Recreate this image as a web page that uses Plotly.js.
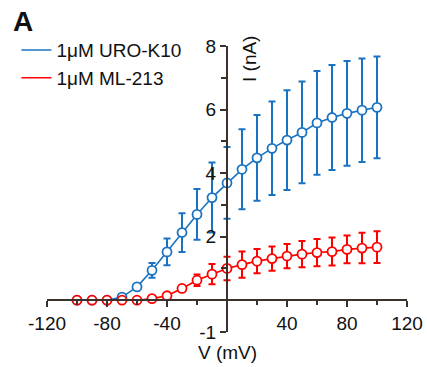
<!DOCTYPE html>
<html>
<head>
<meta charset="utf-8">
<script src="https://cdn.plot.ly/plotly-3.0.1.min.js"></script>
<style>html,body{margin:0;padding:0;background:#fff;}#chart{width:427px;height:367px;}</style>
</head>
<body>
<div id="chart"></div>
<script>
const voltage = [-100,-90,-80,-70,-60,-50,-40,-30,-20,-10,0,10,20,30,40,50,60,70,80,90,100];
const uroMean = [0,0,0,0.1,0.42,0.94,1.52,2.13,2.70,3.23,3.69,4.12,4.48,4.78,5.04,5.28,5.58,5.75,5.88,5.98,6.07];
const uroErr  = [0,0,0,0.03,0.05,0.23,0.42,0.61,0.80,1.10,1.13,1.26,1.35,1.47,1.57,1.60,1.63,1.65,1.65,1.63,1.60];
const mlMean  = [0,0,0,0,0,0.05,0.14,0.37,0.63,0.82,1.00,1.12,1.23,1.31,1.39,1.45,1.50,1.53,1.60,1.64,1.67];
const mlErr   = [0,0,0,0,0,0.03,0.05,0.10,0.18,0.32,0.37,0.41,0.38,0.38,0.38,0.41,0.43,0.44,0.44,0.48,0.50];
const seriesNames = ['1μM URO-K10','1μM ML-213'];
const xTicks = [-120,-80,-40,40,80,120];
const yTicks = [-1,2,4,6,8];

const BLUE = '#1a73c2';
const RED = '#ff0000';
const AX = '#3a302c';
const FONT = 'Liberation Sans, Arial, Helvetica, sans-serif';

function series(y, err, color){
  return {
    x: voltage, y: y, type:'scatter', mode:'lines+markers', showlegend:false,
    line:{color:color, width:1.6},
    marker:{symbol:'circle', size:9, color:'#ffffff', line:{color:color, width:1.8}},
    error_y:{type:'data', array:err, visible:true, color:color, thickness:2, width:3.5},
    hoverinfo:'skip'
  };
}
function legendTrace(name, color, grp){
  return {x:[null], y:[null], type:'scatter', mode:'lines', name:name, legendgroup:grp,
    line:{color:color, width:1.6}};
}

const data = [
  series(uroMean, uroErr, BLUE),
  series(mlMean, mlErr, RED),
  legendTrace(seriesNames[0], BLUE, 'a'),
  legendTrace(seriesNames[1], RED, 'b')
];

const layout = {
  width:427, height:367,
  margin:{l:47, r:20, t:46, b:35},
  paper_bgcolor:'#fff', plot_bgcolor:'rgba(0,0,0,0)',
  font:{family:FONT, size:19, color:'#111'},
  showlegend:true,
  legend:{x:-0.085, y:1.052, xanchor:'left', yanchor:'top', bgcolor:'rgba(0,0,0,0)',
    font:{family:FONT, size:19, color:'#111'}, tracegroupgap:2, traceorder:'normal'},
  xaxis:{range:[-120,120], anchor:'free', position:1/9, showgrid:false, zeroline:false,
    showline:true, linecolor:AX, linewidth:2, ticks:'outside', ticklen:6, tickwidth:2, tickcolor:AX,
    tickmode:'array', tickvals:xTicks, ticktext:xTicks.map(String),
    minor:{tickmode:'array', tickvals:[-100,-60,-20,20,60,100], ticks:'outside', ticklen:4, tickwidth:2, tickcolor:AX, showgrid:false},
    tickfont:{family:FONT, size:19, color:'#111'}, automargin:false, fixedrange:true},
  yaxis:{range:[-1,8], anchor:'free', position:0.5, showgrid:false, zeroline:false,
    showline:true, linecolor:AX, linewidth:2, ticks:'outside', ticklen:6, tickwidth:2, tickcolor:AX,
    tickmode:'array', tickvals:yTicks, ticktext:yTicks.map(String),
    minor:{tickmode:'array', tickvals:[0,1,3,5,7], ticks:'outside', ticklen:5, tickwidth:2, tickcolor:AX, showgrid:false},
    tickfont:{family:FONT, size:19, color:'#111'}, automargin:false, fixedrange:true},
  annotations:[
    {text:'I (nA)', xref:'paper', yref:'paper', x:(250-47)/360, y:(332-59)/286, xanchor:'center', yanchor:'middle',
      textangle:-90, showarrow:false, font:{family:FONT, size:19, color:'#111'}},
    {text:'V (mV)', xref:'paper', yref:'paper', x:0.5, y:(332-352)/286, xanchor:'center', yanchor:'middle',
      showarrow:false, font:{family:FONT, size:19, color:'#111'}},
    {text:'<b>A</b>', xref:'paper', yref:'paper', x:(23-47)/360, y:(332-22)/286, xanchor:'center', yanchor:'middle',
      showarrow:false, font:{family:FONT, size:28, color:'#111'}}
  ]
};

Plotly.newPlot('chart', data, layout, {staticPlot:true, displayModeBar:false});
</script>
</body>
</html>
